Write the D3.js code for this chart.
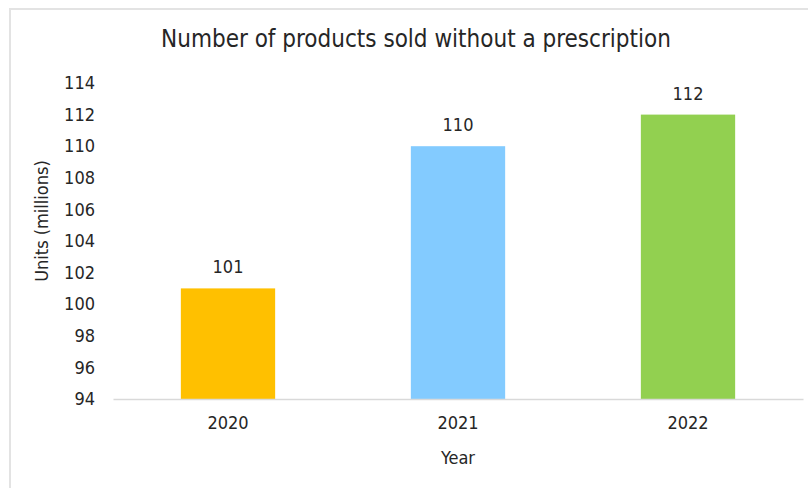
<!DOCTYPE html>
<html>
<head>
<meta charset="utf-8">
<script src="https://cdn.jsdelivr.net/npm/d3@7"></script>
<style>
  html, body { margin: 0; padding: 0; background: #ffffff; }
  svg { display: block; }
  text { font-family: "Liberation Sans Narrow", "DejaVu Sans Condensed", "Roboto", sans-serif; fill: #262626; }
</style>
</head>
<body>
<svg id="chart" width="808" height="488"></svg>
<script>
// Units sold without a prescription, in millions
const years = ["2020", "2021", "2022"];
const units = [101, 110, 112];
const barColors = ["#FFC000", "#83CBFF", "#92D050"];
const yTicks = [94, 96, 98, 100, 102, 104, 106, 108, 110, 112, 114];

const svg = d3.select("#chart");

// chart frame (left and top edges visible)
svg.append("path")
  .attr("d", "M10,490 V9 H810")
  .attr("fill", "none")
  .attr("stroke", "#e3e3e3")
  .attr("stroke-width", 2);

const x = d3.scaleBand()
  .domain(years)
  .range([113, 803])
  .paddingInner(0.59)
  .paddingOuter(0.295);

const y = d3.scaleLinear()
  .domain([94, 114])
  .range([399, 83]);

// title
svg.append("text")
  .attr("x", 416)
  .attr("y", 47)
  .attr("text-anchor", "middle")
  .style("font-size", "24px")
  .text("Number of products sold without a prescription");

// bars
svg.append("g")
  .selectAll("rect")
  .data(years)
  .join("rect")
  .attr("x", d => x(d))
  .attr("width", x.bandwidth())
  .attr("y", (d, i) => y(units[i]))
  .attr("height", (d, i) => y(94) - y(units[i]))
  .attr("fill", (d, i) => barColors[i]);

// value labels
svg.append("g")
  .selectAll("text")
  .data(years)
  .join("text")
  .attr("x", d => x(d) + x.bandwidth() / 2)
  .attr("y", (d, i) => y(units[i]) - 15)
  .attr("text-anchor", "middle")
  .style("font-size", "18px")
  .text((d, i) => d3.format("d")(units[i]));

// y axis (labels only)
const yAxis = svg.append("g")
  .attr("transform", "translate(113,0)")
  .call(d3.axisLeft(y).tickValues(yTicks).tickSize(0).tickPadding(18).tickFormat(d3.format("d")));
yAxis.select(".domain").remove();
yAxis.selectAll("text")
  .style("font-size", "18px")
  .style("font-family", "\"Liberation Sans Narrow\", \"DejaVu Sans Condensed\", Roboto, sans-serif")
  .attr("fill", "#262626");

// x axis
const xAxis = svg.append("g")
  .attr("transform", "translate(0,399)")
  .call(d3.axisBottom(x).tickSize(0).tickPadding(17));
xAxis.select(".domain")
  .attr("stroke", "#d9d9d9")
  .attr("stroke-width", 1.5);
xAxis.selectAll("text")
  .style("font-size", "18px")
  .style("font-family", "\"Liberation Sans Narrow\", \"DejaVu Sans Condensed\", Roboto, sans-serif")
  .attr("fill", "#262626");

// axis titles
svg.append("text")
  .attr("x", 458)
  .attr("y", 464)
  .attr("text-anchor", "middle")
  .style("font-size", "18px")
  .text("Year");

svg.append("text")
  .attr("transform", "translate(48,221) rotate(-90)")
  .attr("text-anchor", "middle")
  .style("font-size", "18px")
  .text("Units (millions)");
</script>
</body>
</html>
